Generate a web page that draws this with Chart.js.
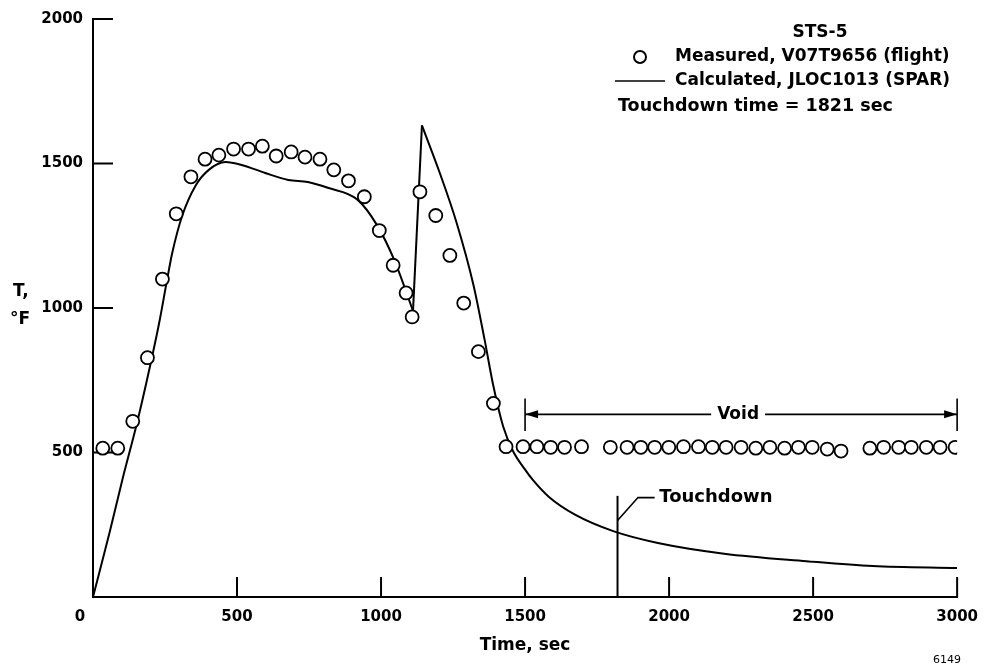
<!DOCTYPE html>
<html>
<head>
<meta charset="utf-8">
<script src="https://cdn.jsdelivr.net/npm/chart.js@4"></script>
<style>
  html, body { margin: 0; padding: 0; background: #fff; }
  #wrap { width: 989px; height: 667px; }
</style>
</head>
<body>
<div id="wrap"><canvas id="myChart" width="989" height="667"></canvas></div>
<script>
// measured thermocouple (circles)
const measuredTime = [34, 86, 138, 189, 241, 289, 340, 389, 437, 488, 540, 588, 636, 688, 736, 788,
    836, 887, 942, 994, 1042, 1087, 1108, 1135, 1190, 1239, 1287, 1338, 1390,
    1434, 1493, 1541, 1589, 1637, 1696, 1796, 1854, 1902, 1950, 1999, 2050, 2102, 2150, 2198,
    2250, 2301, 2350, 2401, 2449, 2497, 2549, 2597, 2697, 2745, 2797, 2841, 2893, 2941, 2993];
const measuredTemp = [515, 515, 608, 828, 1100, 1326, 1454, 1515, 1529, 1550, 1550, 1560, 1526, 1540, 1522, 1515,
    1478, 1440, 1385, 1268, 1148, 1052, 969, 1402, 1320, 1182, 1017, 849, 670,
    520, 520, 520, 518, 518, 520, 518, 518, 518, 518, 518, 520, 520, 518, 518,
    518, 515, 518, 515, 518, 518, 512, 505, 515, 518, 518, 518, 518, 518, 518];

// calculated (SPAR) curve
const calcTime = [0, 58, 103, 151, 196, 230, 254, 275, 310, 357, 402, 460, 516, 598, 678, 746, 815, 918, 987, 1045,
    1111, 1142, 1204, 1262, 1321, 1359, 1390, 1424, 1458, 1497, 1527, 1582, 1675, 1806, 1961, 2191, 2477, 2707, 3000];
const calcTemp = [0, 225, 410, 595, 790, 950, 1080, 1190, 1320, 1425, 1478, 1505, 1495, 1467, 1443, 1436, 1416, 1375, 1285, 1168,
    990, 1632, 1467, 1296, 1079, 893, 730, 590, 505, 445, 405, 347, 284, 228, 187, 150, 124, 107, 100];
// sharp corners of the curve (minimum before the spike, spike peak)
const calcCorners = [1111, 1142];

const xTicks = [0, 500, 1000, 1500, 2000, 2500, 3000];
const yTicks = [500, 1000, 1500, 2000];

const touchdownTime = 1821;
const voidRange = [1500, 3000];
const voidLevel = 632;

const boldFont = 'bold 17px "DejaVu Sans"';

// split the calculated curve at its corners so the smoothing keeps them sharp
function calcSegments() {
    const segs = [[]];
    calcTime.forEach((t, i) => {
        const p = {x: t, y: calcTemp[i]};
        segs[segs.length - 1].push(p);
        if (calcCorners.includes(t)) segs.push([p]);
    });
    return segs;
}

const overlay = {
    id: 'overlay',
    beforeDatasetsDraw(chart) {
        const {ctx, scales: {x, y}} = chart;
        ctx.save();
        ctx.strokeStyle = '#000';
        ctx.lineWidth = 2;
        // inward tick marks
        xTicks.forEach(v => {
            if (v === 0) return;
            const px = x.getPixelForValue(v);
            ctx.beginPath(); ctx.moveTo(px, y.bottom); ctx.lineTo(px, y.bottom - 20); ctx.stroke();
        });
        yTicks.forEach(v => {
            const py = y.getPixelForValue(v);
            ctx.beginPath(); ctx.moveTo(x.left, py); ctx.lineTo(x.left + 20, py); ctx.stroke();
        });
        // touchdown marker
        const tx = x.getPixelForValue(touchdownTime);
        ctx.beginPath(); ctx.moveTo(tx, y.getPixelForValue(0)); ctx.lineTo(tx, y.getPixelForValue(350)); ctx.stroke();
        ctx.lineWidth = 1.6;
        ctx.beginPath();
        ctx.moveTo(tx, y.getPixelForValue(265));
        ctx.lineTo(x.getPixelForValue(1892), y.getPixelForValue(344));
        ctx.lineTo(x.getPixelForValue(1950), y.getPixelForValue(344));
        ctx.stroke();
        ctx.restore();
    },
    afterDatasetsDraw(chart) {
        const {ctx, scales: {x, y}} = chart;
        ctx.save();
        ctx.fillStyle = '#000';
        ctx.strokeStyle = '#000';
        ctx.font = boldFont;
        ctx.textBaseline = 'middle';

        // Touchdown label
        ctx.textAlign = 'left';
        ctx.font = 'bold 18px "DejaVu Sans"';
        ctx.fillText('Touchdown', x.getPixelForValue(1966), y.getPixelForValue(344));
        ctx.font = boldFont;

        // Void dimension line
        const x0 = x.getPixelForValue(voidRange[0]);
        const x1 = x.getPixelForValue(voidRange[1]);
        const vy = y.getPixelForValue(voidLevel);
        const mid = (x0 + x1) / 2 - 3;
        const half = ctx.measureText('Void').width / 2 + 6;
        ctx.lineWidth = 1.6;
        ctx.beginPath();
        ctx.moveTo(x0, vy); ctx.lineTo(mid - half, vy);
        ctx.moveTo(mid + half, vy); ctx.lineTo(x1, vy);
        [x0, x1].forEach(px => {
            ctx.moveTo(px, y.getPixelForValue(687)); ctx.lineTo(px, y.getPixelForValue(574));
        });
        ctx.stroke();
        ctx.beginPath();
        ctx.moveTo(x0, vy); ctx.lineTo(x0 + 13, vy - 4); ctx.lineTo(x0 + 13, vy + 4); ctx.closePath();
        ctx.moveTo(x1, vy); ctx.lineTo(x1 - 13, vy - 4); ctx.lineTo(x1 - 13, vy + 4); ctx.closePath();
        ctx.fill();
        ctx.textAlign = 'center';
        ctx.fillText('Void', mid, vy);

        // legend
        ctx.fillText('STS-5', 820, 33);
        ctx.textAlign = 'left';
        ctx.fillText('Measured, V07T9656 (flight)', 675, 57);
        ctx.fillText('Calculated, JLOC1013 (SPAR)', 675, 81);
        ctx.font = 'bold 17.5px "DejaVu Sans"';
        ctx.fillText('Touchdown time = 1821 sec', 618, 106);
        ctx.lineWidth = 2;
        ctx.beginPath(); ctx.arc(640, 57, 6, 0, Math.PI * 2); ctx.stroke();
        ctx.lineWidth = 1.6;
        ctx.beginPath(); ctx.moveTo(615, 81); ctx.lineTo(665, 81); ctx.stroke();

        // y axis title (horizontal)
        ctx.font = boldFont;
        ctx.fillText('T,', 13, 292);
        ctx.fillText('\u00B0F', 10, 320);

        // figure number
        ctx.font = '11px "DejaVu Sans"';
        ctx.textAlign = 'center';
        ctx.fillText('6149', 947, 660);
        ctx.restore();
    }
};

function createChart() {
    const ctx = document.getElementById('myChart');
    const tickFont = {family: 'DejaVu Sans', size: 15, weight: 'bold'};

    const lineSets = calcSegments().map(seg => ({
        label: 'Calculated, JLOC1013 (SPAR)',
        data: seg,
        showLine: true,
        pointRadius: 0,
        borderColor: '#000',
        borderWidth: 2,
        cubicInterpolationMode: 'monotone',
    }));

    new Chart(ctx, {
        type: 'scatter',
        data: {
            datasets: [
                {
                    label: 'Measured, V07T9656 (flight)',
                    data: measuredTime.map((t, i) => ({x: t, y: measuredTemp[i]})),
                    showLine: false,
                    pointRadius: 6.5,
                    pointBorderWidth: 1.8,
                    pointBackgroundColor: '#fff',
                    pointBorderColor: '#000',
                },
                ...lineSets
            ]
        },
        options: {
            responsive: false,
            animation: false,
            events: [],
            layout: {padding: {left: 0, top: 15, right: 24, bottom: 0}},
            scales: {
                x: {
                    type: 'linear',
                    min: 0,
                    max: 3000,
                    grid: {display: false, drawTicks: false},
                    border: {display: true, color: '#000', width: 2},
                    afterBuildTicks: s => { s.ticks = xTicks.map(v => ({value: v})); },
                    afterFit: s => { s.height = 70; },
                    ticks: {
                        color: '#000',
                        font: tickFont,
                        padding: 11,
                        maxRotation: 0,
                        autoSkip: false,
                        callback: v => v === 0 ? '0     ' : String(v),
                    },
                    title: {
                        display: true,
                        text: 'Time, sec',
                        color: '#000',
                        font: {family: 'DejaVu Sans', size: 17, weight: 'bold'},
                        padding: {top: 0, bottom: 11},
                    }
                },
                y: {
                    type: 'linear',
                    min: 0,
                    max: 2000,
                    grid: {display: false, drawTicks: false},
                    border: {display: true, color: '#000', width: 2},
                    afterBuildTicks: s => { s.ticks = yTicks.map(v => ({value: v})); },
                    afterFit: s => { s.width = 93; },
                    ticks: {
                        color: '#000',
                        font: tickFont,
                        padding: 10,
                        autoSkip: false,
                        callback: v => String(v),
                    }
                }
            },
            plugins: {
                legend: {display: false},
                tooltip: {enabled: false},
            }
        },
        plugins: [overlay]
    });
}
createChart();
</script>
</body>
</html>
